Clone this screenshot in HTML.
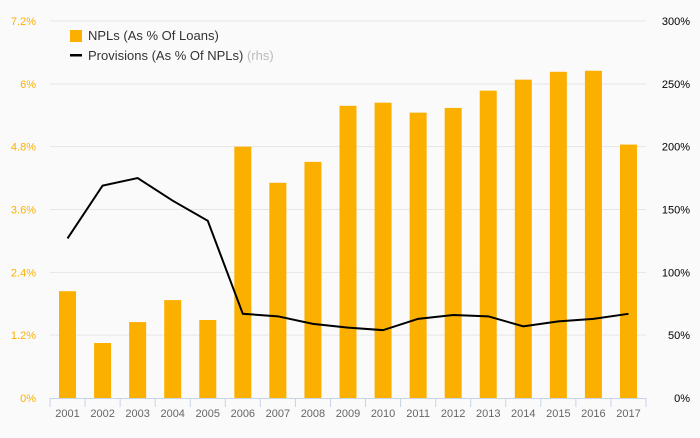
<!DOCTYPE html>
<html><head><meta charset="utf-8"><style>
body{margin:0;background:#fafafa;font-family:"Liberation Sans",sans-serif}
svg text{font-family:"Liberation Sans",sans-serif}
</style></head><body>
<svg id="c" width="700" height="433" xmlns="http://www.w3.org/2000/svg">
<rect width="700" height="433" fill="#fafafa"/>
<g id="grid"></g><g id="bars"></g><g id="axes"></g><g id="line"></g>
<g>
<rect x="70" y="30" width="12" height="12" fill="#fbb000"/>
<text x="88" y="40" font-size="13" fill="#333">NPLs (As % Of Loans)</text>
<rect x="70" y="54" width="12" height="2.5" fill="#000"/>
<text x="88" y="60" font-size="13" fill="#333">Provisions (As % Of NPLs) <tspan fill="#bbb">(rhs)</tspan></text>
</g>
</svg>
<script>
const years=["2001","2002","2003","2004","2005","2006","2007","2008","2009","2010","2011","2012","2013","2014","2015","2016","2017"];
const npl=[2.04,1.05,1.45,1.87,1.49,4.8,4.11,4.51,5.58,5.64,5.45,5.54,5.87,6.08,6.23,6.25,4.84];
const prov=[127,169,175,157,141,67,65,59,56,54,63,66,65,57,61,63,67];
const leftTicks=[0,1.2,2.4,3.6,4.8,6,7.2];
const leftLabels=["0%","1.2%","2.4%","3.6%","4.8%","6%","7.2%"];
const rightTicks=[0,50,100,150,200,250,300];
const rightLabels=["0%","50%","100%","150%","200%","250%","300%"];
const NS="http://www.w3.org/2000/svg";
const x0=50,x1=646,yTop=21,yBot=398;
const bw=(x1-x0)/years.length;
const yL=v=>yBot-v/7.2*(yBot-yTop);
const yR=v=>yBot-v/300*(yBot-yTop);
const xc=i=>x0+bw*(i+0.5);
function mk(t,a,p){const e=document.createElementNS(NS,t);for(const k in a)e.setAttribute(k,a[k]);p.appendChild(e);return e;}
const grid=document.getElementById('grid'),axes=document.getElementById('axes'),bars=document.getElementById('bars'),line=document.getElementById('line');
leftTicks.forEach((v,i)=>{
 if(i>0){const g=mk('line',{x1:x0,x2:x1,y1:yL(v),y2:yL(v),stroke:'#e6e6e6'},grid);
 
 }
 const t=mk('text',{x:36,y:yL(v)+4,'text-anchor':'end','font-size':11,fill:'#fbb000'},axes);t.textContent=leftLabels[i];
 
 
});
rightTicks.forEach((v,i)=>{
 const t=mk('text',{x:690,y:yR(v)+4,'text-anchor':'end','font-size':11,fill:'#000'},axes);t.textContent=rightLabels[i];
 
 
});
const ax=mk('line',{x1:x0,x2:x1,y1:yBot+0.5,y2:yBot+0.5,stroke:'#c8d3e6'},axes);


for(let i=0;i<=years.length;i++){const tk=mk('line',{x1:x0+bw*i,x2:x0+bw*i,y1:yBot,y2:yBot+9,stroke:'#c8d3e6'},axes);
 
 }
years.forEach((y,i)=>{
 const t=mk('text',{x:xc(i),y:417,'text-anchor':'middle','font-size':11,fill:'#666'},axes);t.textContent=y;
 
 
 const b=mk('rect',{x:xc(i)-8.5,y:yL(npl[i]),width:17,height:yBot-yL(npl[i]),fill:'#fbb000'},bars);
 
 
});
const p=mk('polyline',{points:prov.map((v,i)=>xc(i)+','+yR(v)).join(' '),fill:'none',stroke:'#000','stroke-width':2},line);


</script>
</body></html>
